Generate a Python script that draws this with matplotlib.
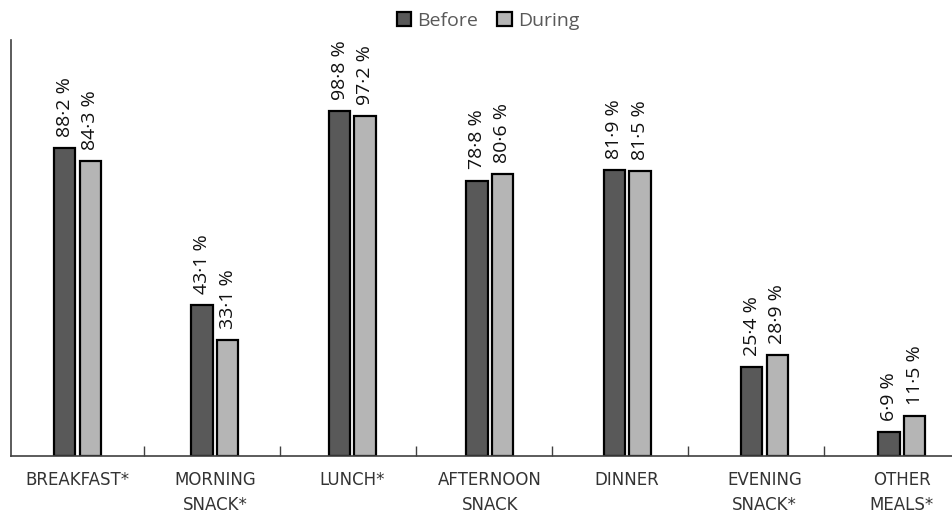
import matplotlib
matplotlib.use("Agg")
import matplotlib.pyplot as plt
import numpy as np

categories = ["BREAKFAST*", "MORNING\nSNACK*", "LUNCH*", "AFTERNOON\nSNACK", "DINNER", "EVENING\nSNACK*", "OTHER\nMEALS*"]
before = [88.2, 43.1, 98.8, 78.8, 81.9, 25.4, 6.9]
during = [84.3, 33.1, 97.2, 80.6, 81.5, 28.9, 11.5]
before_labels = ["88·2 %", "43·1 %", "98·8 %", "78·8 %", "81·9 %", "25·4 %", "6·9 %"]
during_labels = ["84·3 %", "33·1 %", "97·2 %", "80·6 %", "81·5 %", "28·9 %", "11·5 %"]

plt.rcParams['font.family'] = ['Open Sans', 'DejaVu Sans']

W, H = 952, 513
fig = plt.figure(figsize=(W/100, H/100), dpi=100)
unit = 137.4          # px per category (bar spacing)
c0 = 77.5             # px centre of first category
left_px = 11
xl = -(c0 - left_px) / unit
xr = (W - c0) / unit
ax = fig.add_axes([left_px/W, (H-456)/H, (W-left_px)/W, (456-40)/H])

x = np.arange(len(categories))
bw = 0.155
off = 0.093
ax.bar(x - off, before, bw, color="#595959", edgecolor="black", linewidth=1.6, label="Before")
ax.bar(x + off, during, bw, color="#b5b5b5", edgecolor="black", linewidth=1.6, label="During")

for xi, v, t in zip(x - off, before, before_labels):
    ax.annotate(t, (xi, v), xytext=(0, 8), textcoords="offset points", rotation=90,
                ha="center", va="bottom", fontsize=14, color="#111111")
for xi, v, t in zip(x + off, during, during_labels):
    ax.annotate(t, (xi, v), xytext=(0, 8), textcoords="offset points", rotation=90,
                ha="center", va="bottom", fontsize=14, color="#111111")

ax.set_xlim(xl, xr)
ax.set_ylim(0, 119)
ax.set_xticks(x)
ax.set_xticklabels(categories, fontsize=12, linespacing=1.45, color="#333333",
                   family=['DejaVu Sans'])
ax.tick_params(axis="x", length=0, pad=11)
tick_px = [144, 280, 416, 552, 688, 824]
ax.set_xticks([(p - c0) / unit for p in tick_px], minor=True)
ax.tick_params(axis="x", which="minor", direction="in", length=7, width=1, color="#404040")
ax.set_yticks([])
for s in ["top", "right"]:
    ax.spines[s].set_visible(False)
ax.spines["left"].set_color("#404040")
ax.spines["bottom"].set_color("#404040")
ax.spines["left"].set_linewidth(1.2)
ax.spines["bottom"].set_linewidth(1.2)

leg = fig.legend(loc="center", bbox_to_anchor=(488/W, 1 - 21/H), ncol=2, frameon=False,
                 fontsize=14, handlelength=0.75, handleheight=0.75, handletextpad=0.3,
                 columnspacing=1.0)
for t in leg.get_texts():
    t.set_color("#595959")

fig.savefig("out.png", dpi=100)
